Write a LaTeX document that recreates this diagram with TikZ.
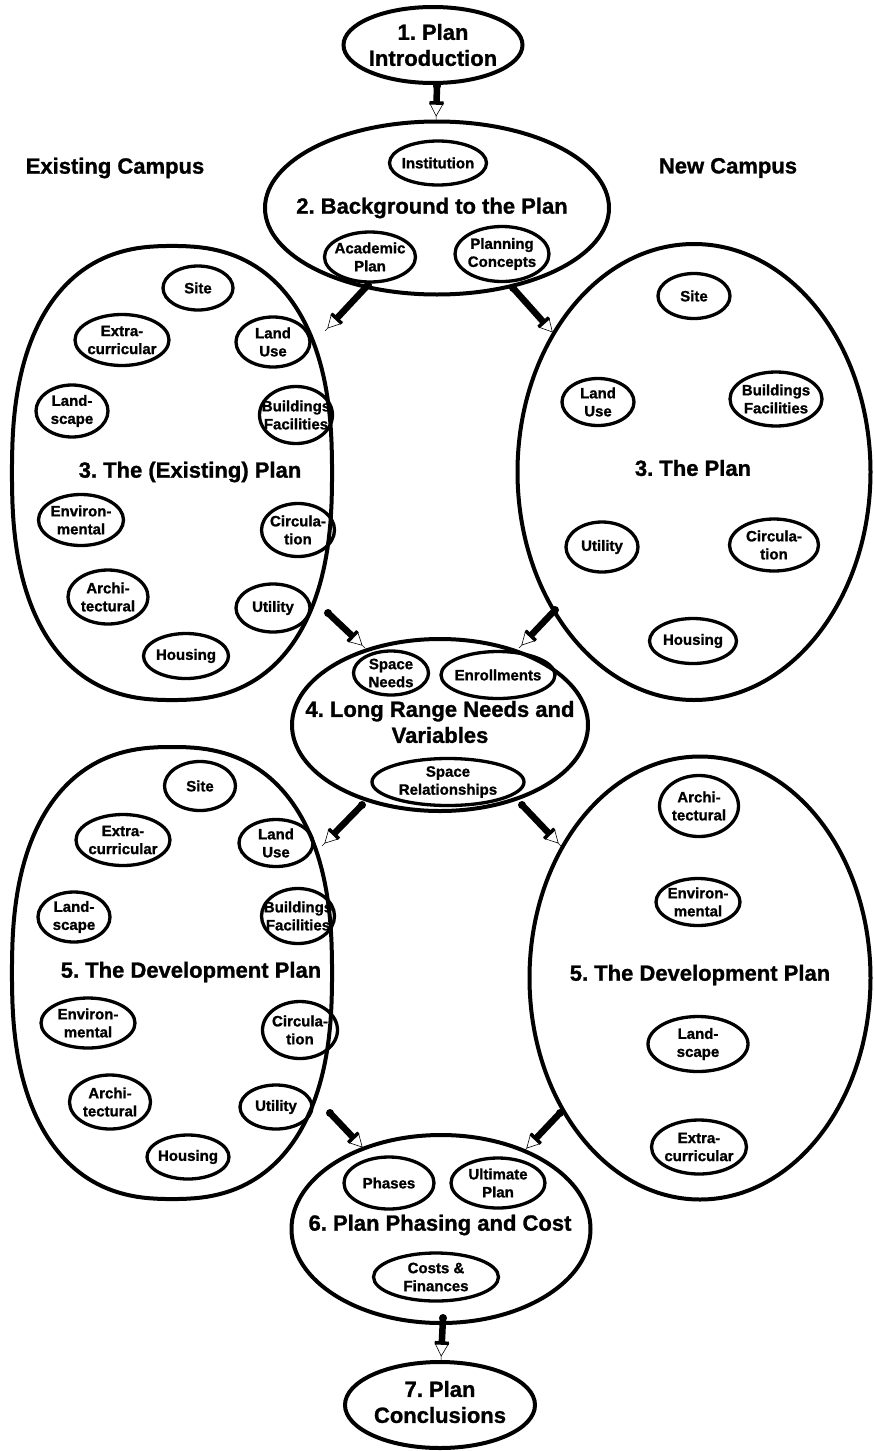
\documentclass[tikz,border=0pt]{standalone}
\usepackage{fontspec}
\setmainfont{Liberation Sans}[BoldFeatures={FakeBold=1.2}]
\usetikzlibrary{shapes.geometric,calc}
\frenchspacing

% small oval with its caption set on top of it
\newcommand\subnode[5]{%
  \node[subov, minimum width={#3pt-3pt}, minimum height={#4pt-3pt},
        label={[subtext]center:#5}] (#1) at (#2) {};}
% large oval (chapter)
\newcommand\bignode[4]{%
  \node[bigoval, minimum width={#3pt-4pt}, minimum height={#4pt-4pt}] (#1) at (#2) {};}
% slightly squared oval drawn as a superellipse: centre x, centre y, half width, half height
\newcommand\superoval[4]{%
  \draw[line width=4pt] plot[domain=1:359, samples=180]
    ({#1+#3*sign(cos(\x))*pow(abs(cos(\x)),0.82)},
     {#2+#4*sign(sin(\x))*pow(abs(sin(\x)),0.82)}) -- cycle;}
% block arrow: heavy shaft, bar, open head, thin lead to the target
\newcommand\flowarrow[2]{%
  \path ($(#2)!4pt!(#1)$) coordinate (fa-t) ($(#2)!17pt!(#1)$) coordinate (fa-c);
  \draw[line width=0.5pt] (fa-t) -- (#2);
  \draw[line width=6.5pt] (#1) -- (fa-c);
  \filldraw[fill=white, line width=0.6pt]
    ($(fa-c)!7pt!90:(fa-t)$) -- (fa-t) -- ($(fa-c)!7pt!-90:(fa-t)$) -- cycle;
  \draw[line width=3.5pt] ($(fa-c)!7pt!90:(fa-t)$) -- ($(fa-c)!7pt!-90:(fa-t)$);
  \fill (#1) circle (4pt);}

\begin{document}
\begin{tikzpicture}[x=1pt,y=-1pt,
  bigoval/.style={ellipse, draw, line width=4pt, inner sep=0pt},
  subov/.style={ellipse, draw, line width=3.3pt, inner sep=0pt},
  subtext/.style={font=\fontsize{15}{18}\selectfont\bfseries, align=center, inner sep=0pt},
  heading/.style={font=\fontsize{22}{26}\selectfont\bfseries, align=center, inner sep=0pt}]
\useasboundingbox (0,0) rectangle (873,1451);

% ---- chapter ovals
\bignode{n1}{433,45}{183}{80}
\bignode{n2}{437,208}{348}{177}
\superoval{172}{473}{160}{227}
\bignode{r3}{694,472}{357}{460}
\bignode{n4}{440,725}{300}{176}
\superoval{172}{973}{160}{226}
\bignode{r5}{700,978}{345}{447}
\bignode{n6}{441,1229}{303}{192}
\bignode{n7}{440,1405}{194}{90}

% ---- headings
\node[heading] (t1) at (433,45) {1. Plan\\Introduction};
\node[heading] (t2) at (432,208) {2. Background to the Plan};
\node[heading] (tl3) at (190,472) {3. The (Existing) Plan};
\node[heading] (tr3) at (693,468) {3. The Plan};
\node[heading] (t4) at (440,722) {4. Long Range Needs and\\Variables};
\node[heading] (tl5) at (191,972) {5. The Development Plan};
\node[heading] (tr5) at (700,975) {5. The Development Plan};
\node[heading] (t6) at (440,1225) {6. Plan Phasing and Cost};
\node[heading] (t7) at (440,1402) {7. Plan\\Conclusions};
\node[heading] (exist) at (115,168) {Existing Campus};
\node[heading] (new) at (728,168) {New Campus};

% ---- 2. background
\subnode{inst}{438,163}{100}{47}{Institution}
\subnode{acad}{370,257}{94}{53}{Academic\\Plan}
\subnode{plan}{502,254}{97}{58}{Planning\\Concepts}

% ---- 3. existing campus
\subnode{site1}{198,288}{73}{47}{Site}
\subnode{extra1}{122,340}{97}{54}{Extra-\\curricular}
\subnode{land1}{273,342}{77}{53}{Land\\Use}
\subnode{lands1}{72,411}{75}{55}{Land-\\scape}
\subnode{build1}{296,415}{76}{60}{Buildings\\Facilities}
\subnode{env1}{81,520}{88}{54}{Environ-\\mental}
\subnode{circ1}{298,530}{76}{56}{Circula-\\tion}
\subnode{arch1}{108,597}{83}{57}{Archi-\\tectural}
\subnode{util1}{273,608}{77}{51}{Utility}
\subnode{hous1}{186,656}{88}{48}{Housing}

% ---- 3. new campus
\subnode{site3}{694,296}{75}{48}{Site}
\subnode{land3}{598,402}{75}{50}{Land\\Use}
\subnode{build3}{776,399}{95}{57}{Buildings\\Facilities}
\subnode{util3}{602,547}{75}{53}{Utility}
\subnode{circ3}{774,545}{92}{55}{Circula-\\tion}
\subnode{hous3}{693,641}{90}{48}{Housing}

% ---- 4. needs
\subnode{space}{391,673}{78}{47}{Space\\Needs}
\subnode{enrol}{498,675}{117}{50}{Enrollments}
\subnode{rel}{448,782}{155}{50}{Space\\Relationships}

% ---- 5. existing campus
\subnode{site2}{200,786}{74}{52}{Site}
\subnode{extra2}{123,840}{97}{54}{Extra-\\curricular}
\subnode{land2}{276,843}{77}{50}{Land\\Use}
\subnode{lands2}{74,917}{75}{53}{Land-\\scape}
\subnode{build2}{298,916}{76}{58}{Buildings\\Facilities}
\subnode{env2}{88,1023}{97}{53}{Environ-\\mental}
\subnode{circ2}{300,1030}{78}{60}{Circula-\\tion}
\subnode{arch2}{110,1102}{84}{57}{Archi-\\tectural}
\subnode{util2}{276,1107}{75}{47}{Utility}
\subnode{hous2}{188,1157}{85}{47}{Housing}

% ---- 5. new campus
\subnode{arch4}{699,806}{82}{64}{Archi-\\tectural}
\subnode{env4}{698,902}{87}{50}{Environ-\\mental}
\subnode{lands4}{698,1044}{103}{58}{Land-\\scape}
\subnode{extra4}{699,1147}{98}{57}{Extra-\\curricular}

% ---- 6. phasing
\subnode{phases}{389,1183}{93}{55}{Phases}
\subnode{ult}{498,1183}{97}{53}{Ultimate\\Plan}
\subnode{costs}{436,1277}{128}{51}{Costs \&\\Finances}

% ---- arrow ends on the chapter ovals
\coordinate (l3in) at (325,331);
\coordinate (r3in) at (555,335);
\coordinate (l3out) at (328,613);
\coordinate (r3out) at (555,610);
\coordinate (n4inl) at (365,648);
\coordinate (n4inr) at (519,648);
\coordinate (n4outl) at (362,805);
\coordinate (n4outr) at (522,805);
\coordinate (l5in) at (322,846);
\coordinate (r5in) at (561,846);
\coordinate (l5out) at (330,1113);
\coordinate (r5out) at (560,1113);
\coordinate (n6inl) at (365,1150);
\coordinate (n6inr) at (524,1151);
\coordinate (n6out) at (443,1318);
\coordinate (n7in) at (441,1360);
\coordinate (n1out) at (437,86);
\coordinate (n2in) at (436,120);
\coordinate (acadout) at (368,285);
\coordinate (planout) at (513,288);

% ---- arrows
\flowarrow{n1out}{n2in}
\flowarrow{acadout}{l3in}
\flowarrow{planout}{r3in}
\flowarrow{l3out}{n4inl}
\flowarrow{r3out}{n4inr}
\flowarrow{n4outl}{l5in}
\flowarrow{n4outr}{r5in}
\flowarrow{l5out}{n6inl}
\flowarrow{r5out}{n6inr}
\flowarrow{n6out}{n7in}
\end{tikzpicture}
\end{document}
